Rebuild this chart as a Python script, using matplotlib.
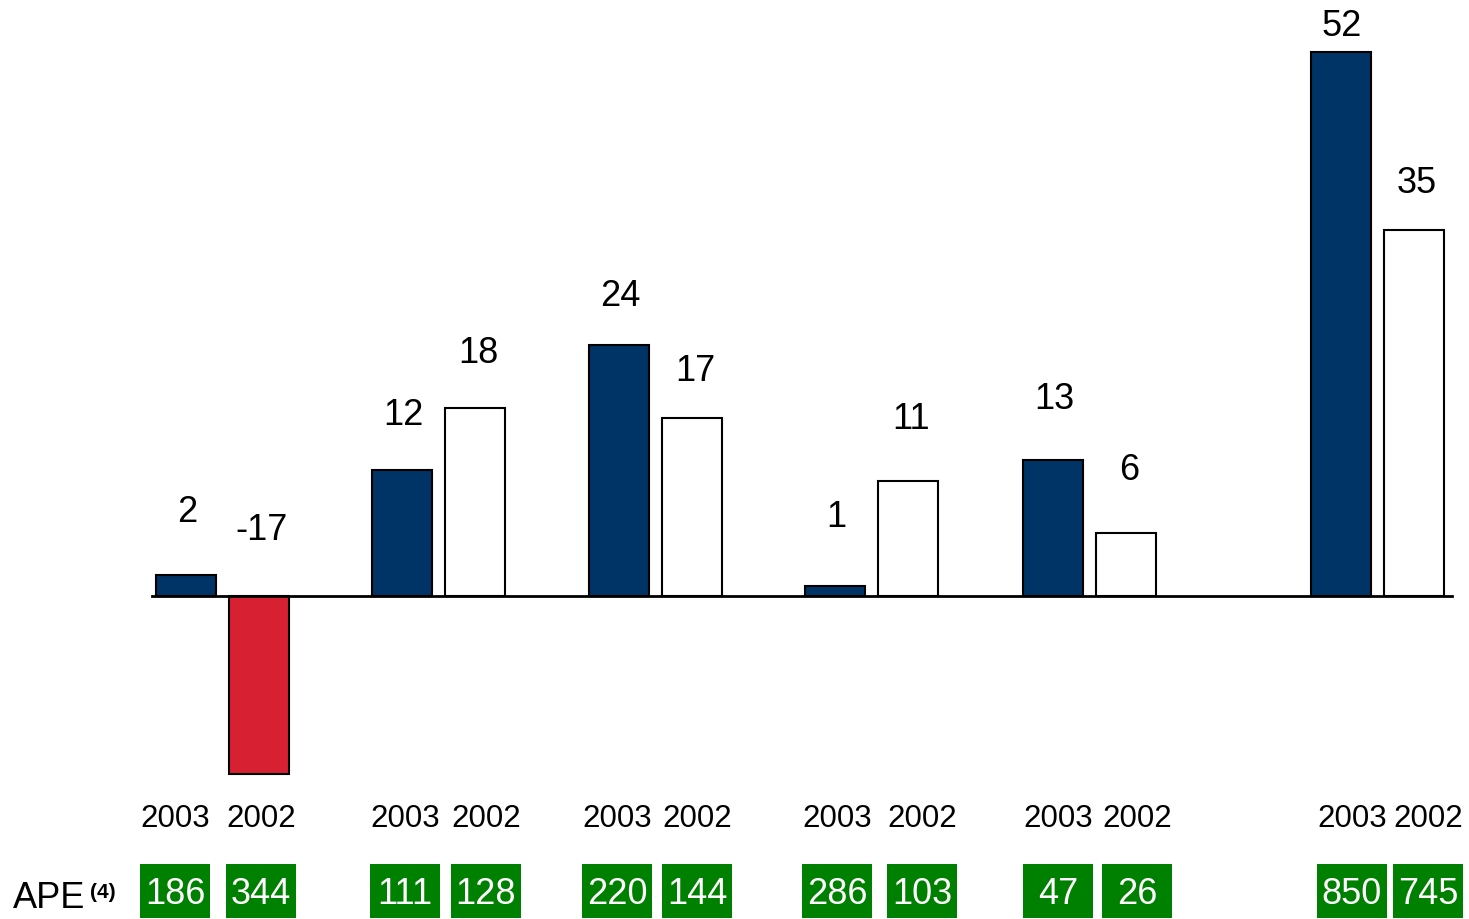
import matplotlib.pyplot as plt
from matplotlib.patches import Rectangle

plt.rcParams['font.family'] = ['Liberation Sans', 'DejaVu Sans']

# data
values_2003 = [2, 12, 24, 1, 13, 52]
values_2002 = [-17, 18, 17, 11, 6, 35]
ape_2003 = [186, 111, 220, 286, 47, 850]
ape_2002 = [344, 128, 144, 103, 26, 745]
year_labels = ['2003', '2002']

# layout (pixel positions on a 1469x919 canvas)
group_x = [222.5, 438.5, 655.5, 872, 1089.5, 1377.5]
bar_off = 36.5
bar_w = 60
lab_x_2003 = [175, 405, 617, 837, 1058, 1352]
lab_x_2002 = [261, 486, 697, 922, 1137, 1428]
pad_2003 = [63, 55, 48, 68, 60, 25]
pad_2002 = [65, 54, 47, 61, 63, 46]

zero_px = 596
scale = 10.47  # px per unit


def py(p):
    return (zero_px - p) / scale


navy = '#003366'
red = '#D72133'
green = '#008000'

fig = plt.figure(figsize=(14.69, 9.19), dpi=100)
ax = fig.add_axes([0, 0, 1, 1])
ax.set_xlim(0, 1469)
ax.set_ylim(py(919), py(0))
ax.axis('off')

x03 = [g - bar_off for g in group_x]
x02 = [g + bar_off for g in group_x]
ax.bar(x03, values_2003, width=bar_w, color=navy, edgecolor='black',
       linewidth=1.5, zorder=2)
c02 = [red if v < 0 else 'white' for v in values_2002]
ax.bar(x02, values_2002, width=bar_w, color=c02, edgecolor='black',
       linewidth=1.5, zorder=2)
ax.plot([152, 1452], [0, 0], color='black', lw=2, zorder=3)

for x, v, p in zip(x03, values_2003, pad_2003):
    ax.text(x + 1, max(v, 0) + p / scale, str(v), ha='center', va='center',
            fontsize=26)
for x, v, p in zip(x02, values_2002, pad_2002):
    ax.text(x + 3, max(v, 0) + p / scale, str(v), ha='center', va='center',
            fontsize=26)

# year labels and APE boxes
box_w, box_h = 70, 54
for xs, apes, yr in [(lab_x_2003, ape_2003, year_labels[0]),
                     (lab_x_2002, ape_2002, year_labels[1])]:
    for x, a in zip(xs, apes):
        ax.text(x, py(819), yr, ha='center', va='center', fontsize=22.5)
        ax.add_patch(Rectangle((x - box_w / 2, py(918)), box_w,
                               box_h / scale, color=green, lw=0))
        ax.text(x, py(895), str(a), ha='center', va='center',
                fontsize=26, color='white')

ax.text(13, py(899), 'APE', ha='left', va='center', fontsize=26)
ax.text(90, py(892), '(4)', ha='left', va='center', fontsize=15,
        fontweight='bold')

fig.savefig('out.png', dpi=100)
